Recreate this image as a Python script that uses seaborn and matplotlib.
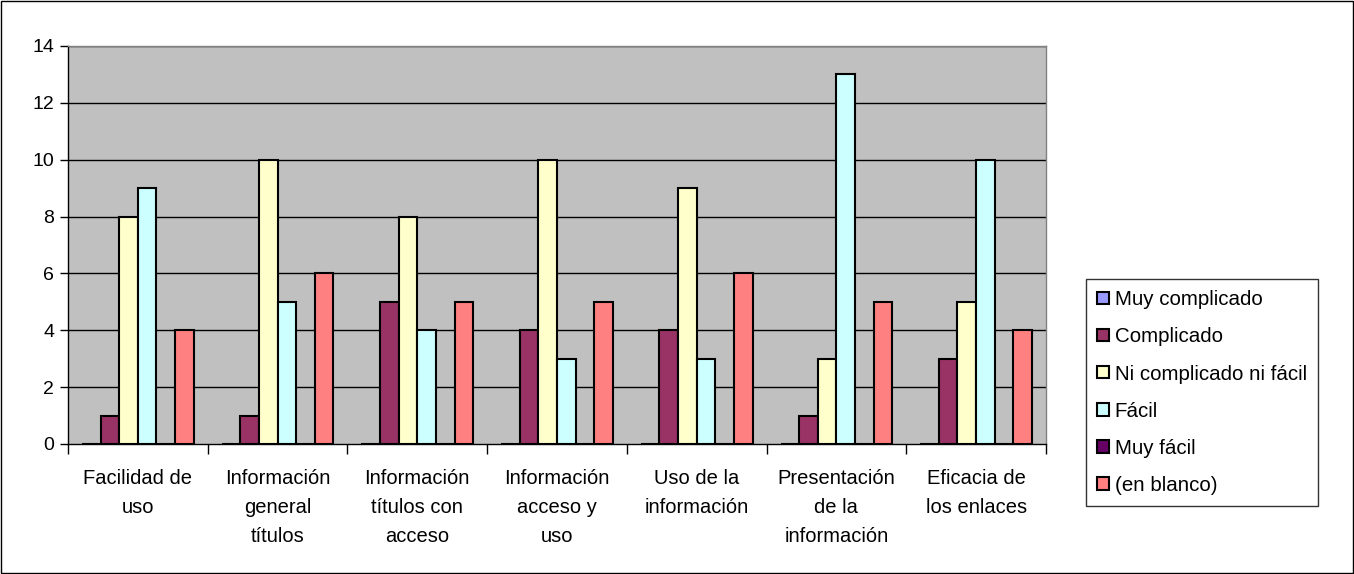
import matplotlib
matplotlib.use("Agg")
import matplotlib.pyplot as plt
from matplotlib.patches import Patch, Rectangle
import seaborn as sns
import pandas as pd

categorias = ["Facilidad de\nuso", "Información\ngeneral\ntítulos", "Información\ntítulos con\nacceso",
              "Información\nacceso y\nuso", "Uso de la\ninformación", "Presentación\nde la\ninformación",
              "Eficacia de\nlos enlaces"]
series = ["Muy complicado", "Complicado", "Ni complicado ni fácil", "Fácil", "Muy fácil", "(en blanco)"]
muy_complicado = [0, 0, 0, 0, 0, 0, 0]
complicado = [1, 1, 5, 4, 4, 1, 3]
ni_uno_ni_otro = [8, 10, 8, 10, 9, 3, 5]
facil = [9, 5, 4, 3, 3, 13, 10]
muy_facil = [0, 0, 0, 0, 0, 0, 0]
en_blanco = [4, 6, 5, 5, 6, 5, 4]
colores = ["#9999FF", "#993366", "#FFFFCC", "#CCFFFF", "#660066", "#FF8080"]

valores = [muy_complicado, complicado, ni_uno_ni_otro, facil, muy_facil, en_blanco]
filas = []
for s, vals in zip(series, valores):
    for c, v in zip(categorias, vals):
        filas.append({"categoria": c, "serie": s, "valor": v})
df = pd.DataFrame(filas)

sns.set_style("white")
plt.rcParams["font.family"] = ["Liberation Sans", "DejaVu Sans"]
plt.rcParams["text.color"] = "black"
plt.rcParams["xtick.color"] = "black"
plt.rcParams["ytick.color"] = "black"

fig = plt.figure(figsize=(13.54, 5.74), dpi=100)
ax = fig.add_axes([0.0502, 0.2265, 0.7223, 0.6934])
ax.set_facecolor("#C0C0C0")

sns.barplot(data=df, x="categoria", y="valor", hue="serie", hue_order=series,
            order=categorias, palette=colores, saturation=1, width=0.8,
            edgecolor="black", linewidth=1.5, legend=False, ax=ax)

ax.set_ylim(0, 14)
ax.set_xlim(-0.5, len(categorias) - 0.5)
ax.set_yticks(range(0, 15, 2))
for y in range(2, 15, 2):
    ax.axhline(y, color="black", linewidth=1, zorder=0.5)
ax.set_axisbelow(True)

ax.set_xlabel("")
ax.set_ylabel("")
ax.set_xticks(range(len(categorias)))
ax.set_xticklabels(categorias, fontsize=14.5, linespacing=1.68, va="top", color="black")
ax.set_xticks([i - 0.5 for i in range(len(categorias) + 1)], minor=True)
ax.tick_params(axis="x", which="major", length=0, pad=18)
ax.tick_params(axis="x", which="minor", length=7, width=1, color="black", direction="out")
ax.tick_params(axis="y", length=6, width=1, color="black", labelcolor="black",
               direction="out", labelsize=14, pad=4)
ax.yaxis.set_ticks_position("left")
ax.xaxis.set_ticks_position("bottom")

for lado in ["left", "bottom"]:
    ax.spines[lado].set_color("black")
    ax.spines[lado].set_linewidth(1)
for lado in ["top", "right"]:
    ax.spines[lado].set_color("#808080")
    ax.spines[lado].set_linewidth(1)

handles = [Patch(facecolor=c, edgecolor="black", linewidth=1.5) for c in colores]
leg = fig.legend(handles, series, loc="center left", bbox_to_anchor=(0.802, 0.316),
                 fontsize=14.8, frameon=True, fancybox=False, handlelength=0.55, handleheight=0.55,
                 handletextpad=0.3, labelspacing=0.88, borderpad=0.55, borderaxespad=0,
                 labelcolor="black")
leg.get_frame().set_edgecolor("black")
leg.get_frame().set_linewidth(1)

fig.patches.append(Rectangle((0.0005, 0.001), 0.999, 0.998, transform=fig.transFigure,
                             fill=False, edgecolor="black", linewidth=1))

fig.savefig("out.png", dpi=100, facecolor="white")
